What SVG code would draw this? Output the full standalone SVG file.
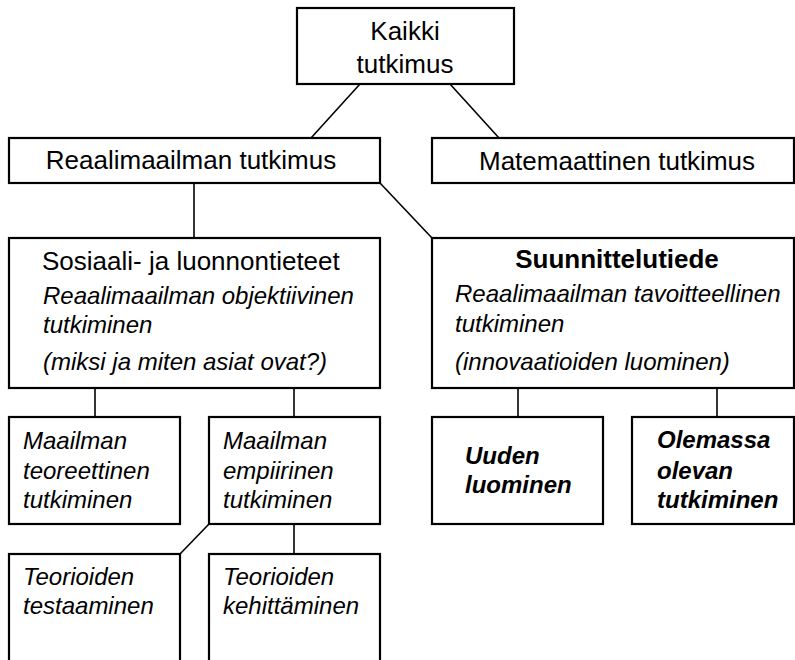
<svg xmlns="http://www.w3.org/2000/svg" width="795" height="660" viewBox="0 0 795 660">
<style>
.box{fill:#fff;stroke:#000;stroke-width:2.2}
.ln{stroke:#000;stroke-width:1.6;fill:none}
text{font-family:"Liberation Sans",Arial,sans-serif;fill:#000}
.h{font-size:26px}
.hc{font-size:26px;text-anchor:middle}
.b{font-size:26px;font-weight:bold;text-anchor:middle}
.i{font-size:24px;font-style:italic}
.bi{font-size:24px;font-style:italic;font-weight:bold}
</style>
<rect width="795" height="660" fill="#fff"/>
<g id="connectors">
<line class="ln" x1="360" y1="84" x2="311" y2="138"/>
<line class="ln" x1="450" y1="84" x2="499" y2="138"/>
<line class="ln" x1="194" y1="183" x2="194" y2="238"/>
<line class="ln" x1="380" y1="183" x2="432" y2="238"/>
<line class="ln" x1="95" y1="388" x2="95" y2="417"/>
<line class="ln" x1="294" y1="388" x2="294" y2="417"/>
<line class="ln" x1="518" y1="388" x2="518" y2="417"/>
<line class="ln" x1="717" y1="388" x2="717" y2="417"/>
<line class="ln" x1="209" y1="524" x2="180" y2="554"/>
<line class="ln" x1="294" y1="524" x2="294" y2="554"/>
</g>
<g id="kaikki">
<rect class="box" x="297" y="8" width="217" height="76"/>
<text class="hc" x="405" y="40">Kaikki</text>
<text class="hc" x="405" y="73">tutkimus</text>
</g>
<g id="reaalimaailman">
<rect class="box" x="9" y="138" width="371" height="45"/>
<text class="hc" x="191" y="169">Reaalimaailman tutkimus</text>
</g>
<g id="matemaattinen">
<rect class="box" x="432" y="138" width="362" height="45"/>
<text class="hc" x="617" y="170">Matemaattinen tutkimus</text>
</g>
<g id="sosiaali">
<rect class="box" x="9" y="238" width="371" height="150"/>
<text class="h" x="42" y="270">Sosiaali- ja luonnontieteet</text>
<text class="i" x="43" y="304">Reaalimaailman objektiivinen</text>
<text class="i" x="43" y="333">tutkiminen</text>
<text class="i" x="43" y="370">(miksi ja miten asiat ovat?)</text>
</g>
<g id="suunnittelutiede">
<rect class="box" x="432" y="238" width="362" height="150"/>
<text class="b" x="617" y="268">Suunnittelutiede</text>
<text class="i" x="455" y="302">Reaalimaailman tavoitteellinen</text>
<text class="i" x="455" y="332">tutkiminen</text>
<text class="i" x="455" y="370">(innovaatioiden luominen)</text>
</g>
<g id="teoreettinen">
<rect class="box" x="9" y="417" width="171" height="107"/>
<text class="i" x="23" y="449">Maailman</text>
<text class="i" x="23" y="479">teoreettinen</text>
<text class="i" x="23" y="508">tutkiminen</text>
</g>
<g id="empiirinen">
<rect class="box" x="209" y="417" width="171" height="107"/>
<text class="i" x="223" y="449">Maailman</text>
<text class="i" x="223" y="479">empiirinen</text>
<text class="i" x="223" y="508">tutkiminen</text>
</g>
<g id="uuden">
<rect class="box" x="432" y="417" width="171" height="107"/>
<text class="bi" x="465" y="464">Uuden</text>
<text class="bi" x="465" y="493">luominen</text>
</g>
<g id="olemassa">
<rect class="box" x="632" y="417" width="162" height="107"/>
<text class="bi" x="657" y="448">Olemassa</text>
<text class="bi" x="657" y="479">olevan</text>
<text class="bi" x="657" y="508">tutkiminen</text>
</g>
<g id="testaaminen">
<rect class="box" x="9" y="554" width="171" height="120"/>
<text class="i" x="23" y="585">Teorioiden</text>
<text class="i" x="23" y="614">testaaminen</text>
</g>
<g id="kehittaminen">
<rect class="box" x="209" y="554" width="171" height="120"/>
<text class="i" x="223" y="585">Teorioiden</text>
<text class="i" x="223" y="614">kehittäminen</text>
</g>
</svg>
